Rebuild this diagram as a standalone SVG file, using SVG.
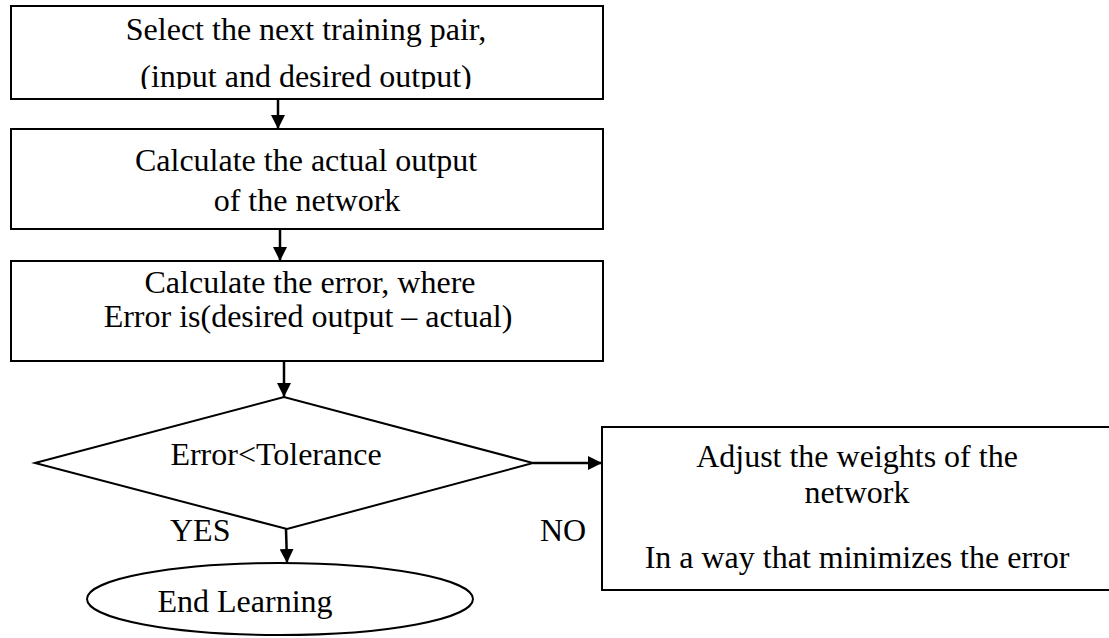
<svg xmlns="http://www.w3.org/2000/svg" width="1109" height="638" viewBox="0 0 1109 638">
  <defs>
    <marker id="arrow" viewBox="0 0 14 14" refX="14" refY="7" markerWidth="14" markerHeight="14" markerUnits="userSpaceOnUse" orient="auto">
      <path d="M0,0 L14,7 L0,14 Z" fill="#000"/>
    </marker>
    <!-- the second line of the first step is cut off by the text area -->
    <clipPath id="clip-select">
      <rect x="11" y="6" width="592" height="83"/>
    </clipPath>
    <style>
      .box { fill: #fff; stroke: #000; stroke-width: 2; }
      .lbl { font-family: "Liberation Serif", "Times New Roman", serif; font-size: 32px; fill: #000; }
      .mid { text-anchor: middle; }
      .conn { stroke: #000; stroke-width: 2.5; fill: none; marker-end: url(#arrow); }
    </style>
  </defs>
  <rect width="1109" height="638" fill="#fff"/>

  <g id="select-pair">
    <rect class="box" x="11" y="6" width="592" height="93"/>
    <g clip-path="url(#clip-select)">
      <text class="lbl mid" x="306" y="40">Select the next training pair,</text>
      <text class="lbl mid" x="306" y="87">(input and desired output)</text>
    </g>
  </g>

  <g id="actual-output">
    <rect class="box" x="11" y="129" width="592" height="100"/>
    <text class="lbl mid" x="306" y="171">Calculate the actual output</text>
    <text class="lbl mid" x="307" y="211">of the network</text>
  </g>

  <g id="compute-error">
    <rect class="box" x="11" y="261" width="592" height="100"/>
    <text class="lbl mid" x="310" y="293">Calculate the error, where</text>
    <text class="lbl mid" x="308" y="327">Error is(desired output – actual)</text>
  </g>

  <g id="tolerance-check">
    <polygon class="box" points="35,463 284,397 533,463 287,529"/>
    <text class="lbl mid" x="276" y="465">Error&lt;Tolerance</text>
  </g>

  <g id="end-learning">
    <ellipse class="box" cx="280" cy="599" rx="193" ry="36"/>
    <text class="lbl mid" x="245" y="612">End Learning</text>
  </g>

  <g id="adjust-weights">
    <rect class="box" x="602" y="427" width="520" height="163"/>
    <text class="lbl mid" x="857" y="467">Adjust the weights of the</text>
    <text class="lbl mid" x="857" y="503">network</text>
    <text class="lbl mid" x="857" y="568">In a way that minimizes the error</text>
  </g>

  <g id="branch-labels">
    <text class="lbl" x="170" y="541">YES</text>
    <text class="lbl" x="540" y="541">NO</text>
  </g>

  <g id="connectors">
    <line class="conn" x1="278" y1="99" x2="278" y2="129"/>
    <line class="conn" x1="280" y1="229" x2="280" y2="261"/>
    <line class="conn" x1="284" y1="361" x2="284" y2="397"/>
    <line class="conn" x1="286" y1="529" x2="287" y2="563"/>
    <line class="conn" x1="533" y1="463" x2="602" y2="463"/>
  </g>
</svg>
